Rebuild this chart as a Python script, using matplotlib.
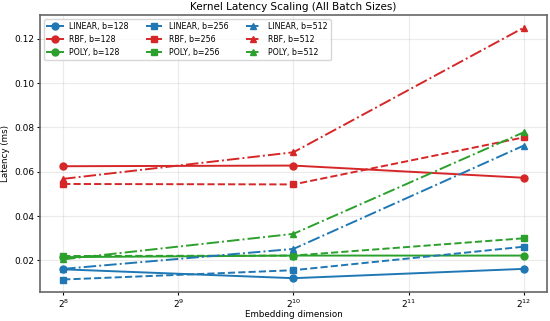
import numpy as np
import matplotlib.pyplot as plt

dims = [256, 1024, 4096]
kernels = ['LINEAR', 'RBF', 'POLY']
batches = [128, 256, 512]

# latency (ms) per kernel, per batch size, over dims
linear_128 = [0.0160, 0.0120, 0.0162]
linear_256 = [0.0114, 0.0156, 0.0262]
linear_512 = [0.0162, 0.0252, 0.0718]
rbf_128 = [0.0625, 0.0628, 0.0573]
rbf_256 = [0.0545, 0.0543, 0.0755]
rbf_512 = [0.0568, 0.0688, 0.1250]
poly_128 = [0.0215, 0.0222, 0.0222]
poly_256 = [0.0220, 0.0222, 0.0300]
poly_512 = [0.0205, 0.0320, 0.0778]

data = {
    'LINEAR': [linear_128, linear_256, linear_512],
    'RBF': [rbf_128, rbf_256, rbf_512],
    'POLY': [poly_128, poly_256, poly_512],
}
colors = {'LINEAR': '#1f77b4', 'RBF': '#d62728', 'POLY': '#2ca02c'}
markers = ['o', 's', '^']
styles = ['-', '--', '-.']

fig, ax = plt.subplots(figsize=(5.5, 3.21), dpi=100)

for j, b in enumerate(batches):
    for k in kernels:
        ax.plot(dims, data[k][j], color=colors[k], marker=markers[j],
                linestyle=styles[j], markersize=5, linewidth=1.4,
                label=f'{k}, b={b}')

ax.set_xscale('log', base=2)
ax.set_xticks([256, 512, 1024, 2048, 4096])
ax.set_title('Kernel Latency Scaling (All Batch Sizes)', fontsize=7.5, pad=4)
ax.set_xlabel('Embedding dimension', fontsize=6.3, labelpad=0)
ax.set_ylabel('Latency (ms)', fontsize=6.3, labelpad=3)
ax.tick_params(labelsize=6.5, length=2.5, pad=1.5)
ax.grid(True, alpha=0.25)
for s in ax.spines.values():
    s.set_color('#666666')
    s.set_linewidth(1.2)
ax.legend(ncol=3, loc='upper left', fontsize=5.7, columnspacing=2.2)

fig.subplots_adjust(left=0.073, right=0.994, top=0.953, bottom=0.09)
plt.savefig('out.png')
